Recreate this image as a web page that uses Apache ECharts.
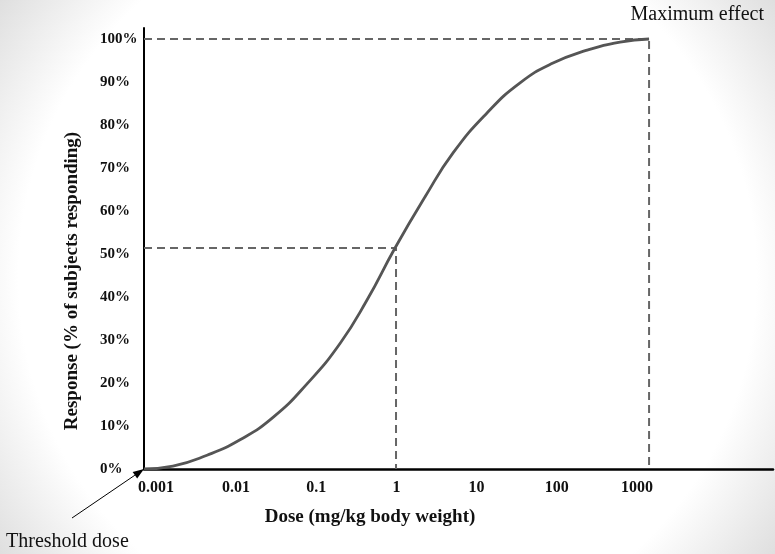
<!DOCTYPE html>
<html><head><meta charset="utf-8">
<script src="https://cdn.jsdelivr.net/npm/echarts@6/dist/echarts.min.js"></script>
<style>html,body{margin:0;padding:0;background:#fff}#c{width:775px;height:554px}</style>
</head><body><div id="c"></div>
<script>
// Dose (mg/kg body weight) and response (% of subjects responding)
const doseValues = [0.00071, 0.00163, 0.00434, 0.0112, 0.0289, 0.0767, 0.198, 0.430, 0.961, 2.28, 5.09, 13.5, 34.9, 89.9, 239, 616, 1419];
const responseValues = [0, 0.67, 3.2, 6.8, 12.0, 19.8, 29.2, 39.3, 51.4, 63.3, 73.5, 82.8, 89.8, 94.4, 97.4, 99.3, 100];
const xTickLabels = ['0.001', '0.01', '0.1', '1', '10', '100', '1000'];
const yTickValues = [0, 10, 20, 30, 40, 50, 60, 70, 80, 90, 100];
const ed50 = [0.989, 51.4];       // dose, response
const maxEffect = [1419, 100];    // dose, response
const thresholdDose = 0.00071;
const xRange = [0.00071, 49900];  // dose range of the axis
const yRange = [0, 102.56];

const lg = Math.log10;
const curve = doseValues.map((d, i) => [lg(d), responseValues[i]]);
const xTickPos = xTickLabels.map(s => lg(parseFloat(s)));
const serif = '"Liberation Serif", "Times New Roman", serif';
const dash = { color: '#666666', width: 2, type: [8, 5] };

const chart = echarts.init(document.getElementById('c'), null, { renderer: 'canvas' });
const option = {
  animation: false,
  backgroundColor: {
    type: 'radial', x: 0.5, y: 0.5, r: 0.9,
    colorStops: [{ offset: 0, color: '#ffffff' }, { offset: 0.74, color: '#ffffff' }, { offset: 1, color: '#d8d8d8' }]
  },
  grid: { left: 144, right: 2, top: 28, bottom: 85, containLabel: false },
  xAxis: {
    type: 'value', min: lg(xRange[0]), max: lg(xRange[1]),
    axisLine: { show: true, onZero: false, lineStyle: { color: '#000', width: 2.5 } },
    axisTick: { show: false },
    splitLine: { show: false },
    axisLabel: {
      customValues: xTickPos,
      margin: 11,
      color: '#111', fontFamily: serif, fontSize: 16, fontWeight: 'bold',
      formatter: v => { const i = xTickPos.findIndex(p => Math.abs(p - v) < 1e-6); return i >= 0 ? xTickLabels[i] : ''; }
    }
  },
  yAxis: {
    type: 'value', min: yRange[0], max: yRange[1],
    axisLine: { show: true, onZero: false, lineStyle: { color: '#000', width: 2 } },
    axisTick: { show: false },
    splitLine: { show: false },
    axisLabel: {
      customValues: yTickValues,
      align: 'left', margin: 44, padding: [0, 0, 8, 0],
      color: '#111', fontFamily: serif, fontSize: 15, fontWeight: 'bold',
      formatter: v => v + '%'
    }
  },
  series: [
    {
      type: 'line', data: [[lg(thresholdDose), ed50[1]], [lg(ed50[0]), ed50[1]], [lg(ed50[0]), 0]],
      symbol: 'none', lineStyle: dash, z: 1, silent: true
    },
    {
      type: 'line', data: [[lg(thresholdDose), maxEffect[1]], [lg(maxEffect[0]), maxEffect[1]], [lg(maxEffect[0]), 0]],
      symbol: 'none', lineStyle: dash, z: 1, silent: true
    },
    {
      type: 'line', data: curve, smooth: 0.5, symbol: 'none',
      lineStyle: { color: '#555555', width: 2.8 }, z: 3
    }
  ]
};
chart.setOption(option);

const tip = chart.convertToPixel({ gridIndex: 0 }, [lg(thresholdDose), 0]);
const start = [72, 518];
const dx = tip[0] - start[0], dy = tip[1] - start[1];
const len = Math.hypot(dx, dy), ux = dx / len, uy = dy / len;
const hl = 11, hw = 4;
const bx = tip[0] - ux * hl, by = tip[1] - uy * hl;
chart.setOption({
  graphic: [
    { type: 'line', shape: { x1: start[0], y1: start[1], x2: bx, y2: by }, style: { stroke: '#000', lineWidth: 1 } },
    { type: 'polygon', shape: { points: [[tip[0], tip[1]], [bx - uy * hw, by + ux * hw], [bx + uy * hw, by - ux * hw]] }, style: { fill: '#000' } },
    { type: 'text', x: 6, y: 542, style: { text: 'Threshold dose', font: '20px ' + serif, fill: '#111', textVerticalAlign: 'middle' } },
    { type: 'text', x: 764, y: 15, style: { text: 'Maximum effect', font: '20px ' + serif, fill: '#111', textAlign: 'right', textVerticalAlign: 'middle' } },
    { type: 'text', x: 370, y: 517, style: { text: 'Dose (mg/kg body weight)', font: 'bold 19px ' + serif, fill: '#111', textAlign: 'center', textVerticalAlign: 'middle' } },
    { type: 'text', x: 72, y: 281, rotation: Math.PI / 2, style: { text: 'Response (% of subjects responding)', font: 'bold 19px ' + serif, fill: '#111', textAlign: 'center', textVerticalAlign: 'middle' } }
  ]
});
</script>
</body></html>
